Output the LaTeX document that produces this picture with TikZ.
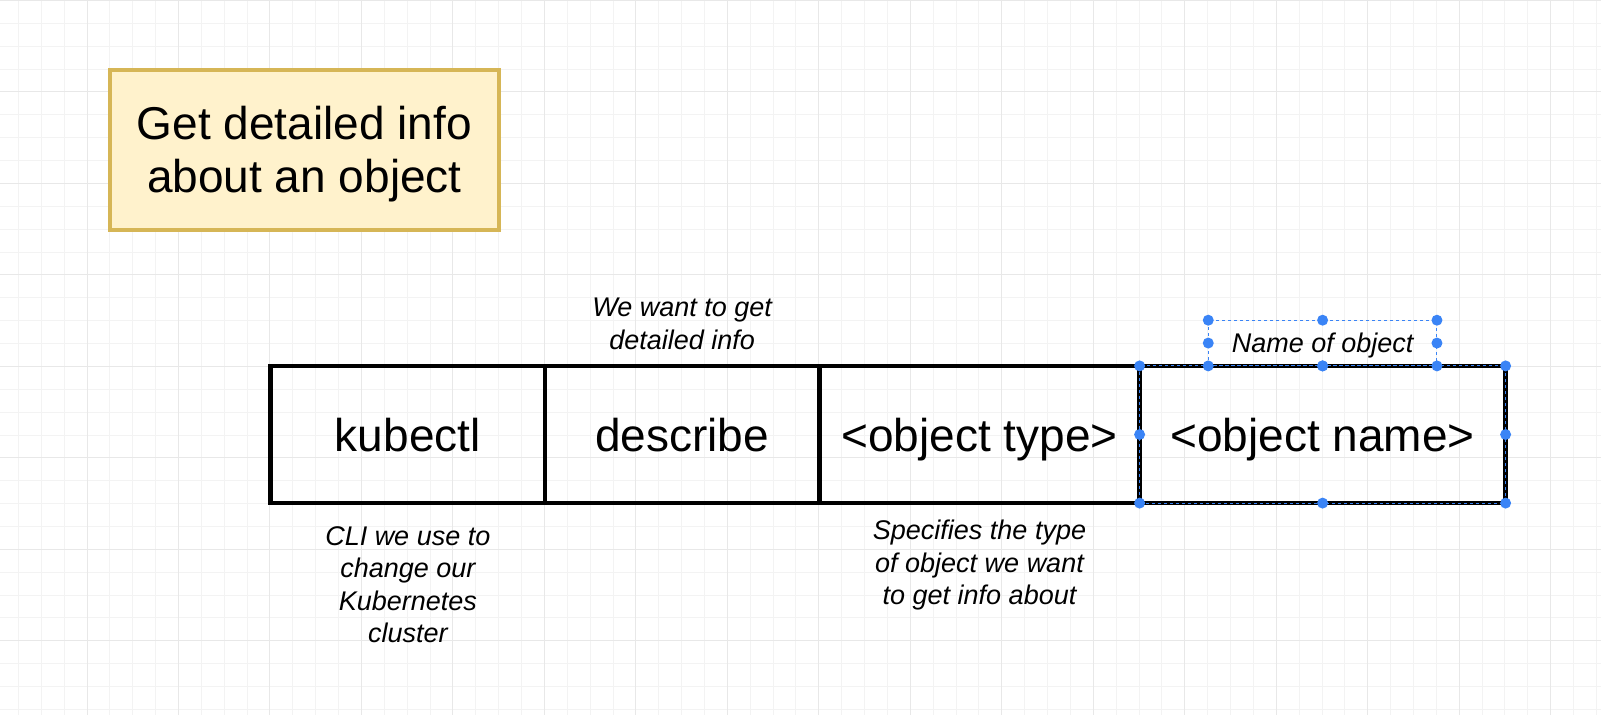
\documentclass[tikz,border=0pt]{standalone}
\usepackage{fontspec}
\setmainfont{Liberation Sans}
\usetikzlibrary{positioning}

\definecolor{selblue}{RGB}{58,132,246}
\definecolor{notefill}{RGB}{255,242,204}
\definecolor{noteline}{RGB}{214,182,86}
\definecolor{gridminor}{RGB}{243,243,243}
\definecolor{gridmajor}{RGB}{232,232,232}

\begin{document}
\begin{tikzpicture}[x=1pt,y=-1pt,
        cell/.style={draw=black,line width=4.5pt,inner sep=0pt,outer sep=0pt,
            minimum height=137.2pt,text height=33.5pt,text depth=0pt,font=\fontsize{46}{53}\selectfont},
        remark/.style={align=center,inner sep=0pt,font=\fontsize{27}{32.5}\selectfont\itshape},
        handle/.style={fill=selblue},
        selline/.style={draw=selblue,line width=1pt,dash pattern=on 3pt off 3pt}]
        \useasboundingbox[fill=white] (0,0) rectangle (1601,715);
        % grid
        \foreach \i in {0,...,69} \draw[gridminor,line width=1pt] ({18.4+\i*22.87},0) -- ({18.4+\i*22.87},715);
        \foreach \j in {0,...,31} \draw[gridminor,line width=1pt] (0,{0.5+\j*22.87}) -- (1601,{0.5+\j*22.87});
        \foreach \i in {0,...,17} \draw[gridmajor,line width=1pt] ({87+\i*91.48},0) -- ({87+\i*91.48},715);
        \foreach \j in {0,...,7} \draw[gridmajor,line width=1pt] (0,{0.5+\j*91.48}) -- (1601,{0.5+\j*91.48});

        \node[draw=noteline,fill=notefill,line width=4pt,minimum width=388.8pt,minimum height=160pt,
            align=center,text depth=0pt,font=\fontsize{46}{53}\selectfont] (goal) at (304.4,149.5) {Get detailed info\\about an object};

        \node[cell,minimum width=274.4pt] (kubectl) at (407.8,434.5) {kubectl};
        \node[cell,minimum width=274.4pt,right=0pt of kubectl] (describe) {describe};
        \node[cell,minimum width=320.2pt,right=0pt of describe] (objtype) {<object type>};
        \node[cell,minimum width=366pt,right=0pt of objtype] (objname) {<object name>};

        \node[remark,above=16pt of describe] (wantnote) {We want to get\\detailed info};
        \node[remark,below=23pt of kubectl] (clinote) {CLI we use to\\change our\\Kubernetes\\cluster};
        \node[remark,below=17pt of objtype] (typenote) {Specifies the type\\of object we want\\to get info about};
        \node[remark,selline,minimum width=228.7pt,minimum height=45.7pt,outer sep=0pt,text depth=0pt,
            above=0pt of objname] (namenote) {Name of object};

        % selection
        \draw[selline] (objname.north west) rectangle (objname.south east);
        \foreach \a in {north west,north,north east,east,south east,south,south west,west} {
            \fill[handle] (objname.\a) circle (5.5pt);
            \fill[handle] (namenote.\a) circle (5.5pt);
        }
    \end{tikzpicture}
\end{document}
